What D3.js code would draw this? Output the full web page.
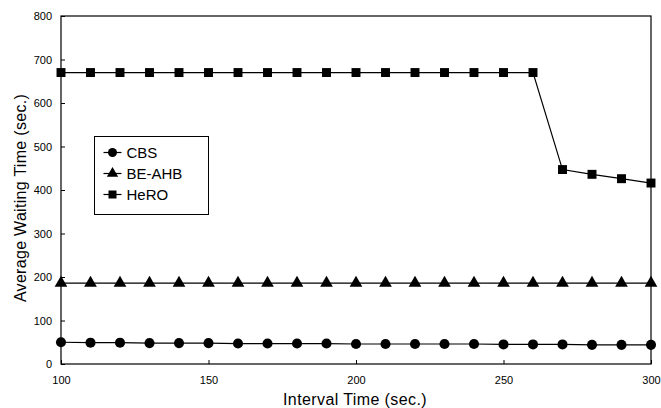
<!DOCTYPE html>
<html>
<head>
<meta charset="utf-8">
<script src="https://cdn.jsdelivr.net/npm/d3@7"></script>
<style>
  body { margin: 0; background: #fff; }
  text { font-family: "Liberation Sans", Arial, sans-serif; fill: #000; }
</style>
</head>
<body>
<div id="chart"></div>
<script>
// interval time (sec.)
const intervals = [100, 110, 120, 130, 140, 150, 160, 170, 180, 190, 200,
  210, 220, 230, 240, 250, 260, 270, 280, 290, 300];
const cbs = [50, 49, 49, 48, 48, 48, 47, 47, 47, 47, 46,
  46, 46, 46, 46, 45, 45, 45, 44, 44, 44];
const beAhb = [186, 186, 186, 186, 186, 186, 186, 186, 186, 186, 186,
  186, 186, 186, 186, 186, 186, 186, 186, 186, 186];
const hero = [670, 670, 670, 670, 670, 670, 670, 670, 670, 670, 670,
  670, 670, 670, 670, 670, 670, 447, 436, 426, 416];
const seriesNames = ["CBS", "BE-AHB", "HeRO"];
const xTicks = [100, 150, 200, 250, 300];
const yTicks = [0, 100, 200, 300, 400, 500, 600, 700, 800];

const W = 661, H = 408;
const margin = { top: 16, right: 10, bottom: 44, left: 61 };
const width = W - margin.left - margin.right;
const height = H - margin.top - margin.bottom;

const svg = d3.select('#chart').append('svg')
  .attr('width', W).attr('height', H);
const g = svg.append('g')
  .attr('transform', `translate(${margin.left},${margin.top})`);

const x = d3.scaleLinear().domain([100, 300]).range([0, width]);
const y = d3.scaleLinear().domain([0, 800]).range([height, 0]);

// frame
g.append('rect')
  .attr('width', width).attr('height', height)
  .attr('fill', 'none').attr('stroke', '#000').attr('stroke-width', 1.2);

// axes, ticks point inward
const xAxis = g.append('g')
  .attr('transform', `translate(0,${height})`)
  .call(d3.axisBottom(x).tickValues(xTicks).tickSizeInner(-4).tickSizeOuter(0).tickPadding(12));
const yAxis = g.append('g')
  .call(d3.axisLeft(y).tickValues(yTicks).tickSizeInner(-4).tickSizeOuter(0).tickPadding(9));
[xAxis, yAxis].forEach(a => {
  a.select('.domain').remove();
  a.selectAll('text').style('font-size', '11px').style('font-family', '"Liberation Sans", Arial, sans-serif');
  a.selectAll('line').attr('stroke', '#000');
});

// axis titles
svg.append('text')
  .attr('x', margin.left + width / 2 - 1).attr('y', 405)
  .attr('text-anchor', 'middle').style('font-size', '16px')
  .style('letter-spacing', '0.4px')
  .text('Interval Time (sec.)');
svg.append('text')
  .attr('transform', `translate(26,198) rotate(-90)`)
  .attr('text-anchor', 'middle').style('font-size', '16px')
  .style('letter-spacing', '0.3px')
  .text('Average Waiting Time (sec.)');

const symbols = [d3.symbolCircle, d3.symbolTriangle, d3.symbolSquare];
const symSizes = [80, 70, 80];
const data = [cbs, beAhb, hero];

const line = d3.line()
  .x((d, i) => x(intervals[i]))
  .y(d => y(d));

data.forEach((vals, si) => {
  g.append('path')
    .datum(vals)
    .attr('d', line)
    .attr('fill', 'none')
    .attr('stroke', '#000')
    .attr('stroke-width', 1.2);
  g.selectAll(`.m${si}`)
    .data(vals)
    .enter().append('path')
    .attr('class', `m${si}`)
    .attr('transform', (d, i) => `translate(${x(intervals[i])},${y(d)})`)
    .attr('d', d3.symbol().type(symbols[si]).size(symSizes[si]))
    .attr('fill', '#000');
});

// legend
const lg = svg.append('g').attr('transform', 'translate(94.5,136.5)');
lg.append('rect')
  .attr('width', 114).attr('height', 78)
  .attr('fill', '#fff').attr('stroke', '#000').attr('stroke-width', 1);
seriesNames.forEach((name, i) => {
  const cy = 16 + i * 21;
  lg.append('line')
    .attr('x1', 9).attr('x2', 27).attr('y1', cy).attr('y2', cy)
    .attr('stroke', '#000').attr('stroke-width', 1.2);
  lg.append('path')
    .attr('transform', `translate(18,${cy})`)
    .attr('d', d3.symbol().type(symbols[i]).size(symSizes[i] * 0.8))
    .attr('fill', '#000');
  lg.append('text')
    .attr('x', 32).attr('y', cy + 5.5)
    .style('font-size', '15px')
    .text(name);
});
</script>
</body>
</html>
